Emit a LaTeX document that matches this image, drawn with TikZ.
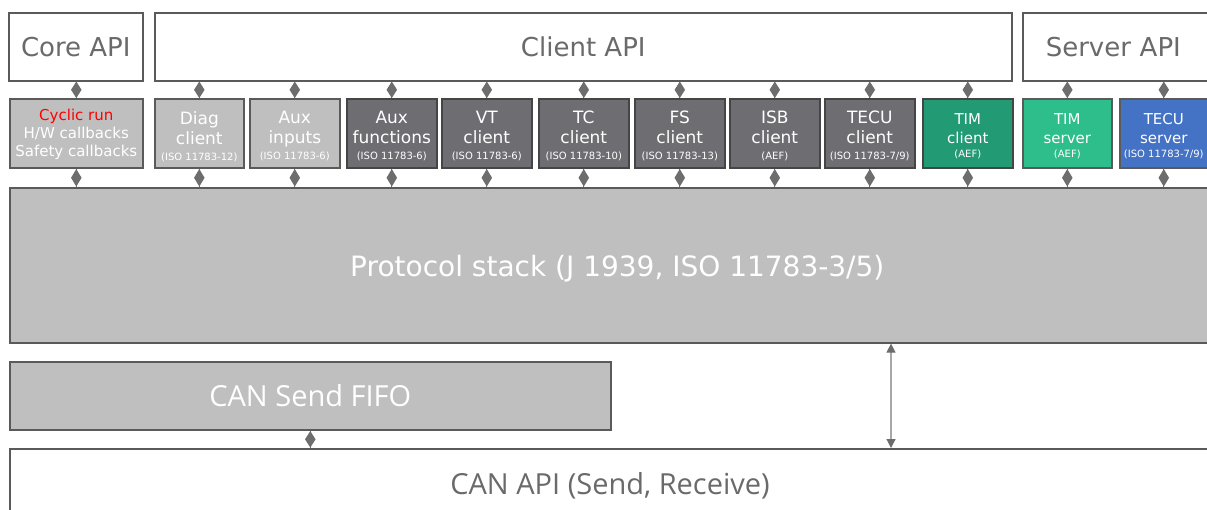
\documentclass[tikz,border=0pt]{standalone}
\usepackage{fontspec}
\setmainfont{DejaVu Sans}
\newfontfamily\osans{Open Sans}
\usetikzlibrary{shapes.geometric,arrows.meta}
\definecolor{bord}{HTML}{5A5A5A}
\definecolor{lgfill}{HTML}{BFBFBF}
\definecolor{dkfill}{HTML}{6E6D72}
\definecolor{dkbord}{HTML}{454545}
\definecolor{timc}{HTML}{229B75}
\definecolor{tims}{HTML}{2EBE8B}
\definecolor{tecus}{HTML}{4472C4}
\definecolor{apitext}{HTML}{6A6A6A}
\definecolor{diamc}{HTML}{6D6D6D}
\definecolor{arrline}{HTML}{A8A8A8}
\tikzset{
  apibox/.style={draw=bord, line width=1.6pt, fill=white, anchor=north west, inner sep=0pt,
    text=apitext, font=\fontsize{26}{30}\selectfont},
  sbox/.style={draw=bord, line width=1.6pt, anchor=north west, inner sep=0pt, minimum height=69pt},
  stext/.style={text=white, align=center, inner sep=0pt, font=\fontsize{17}{20}\selectfont},
  stexts/.style={stext, font=\fontsize{15}{18.5}\selectfont},
  lightb/.style={sbox, fill=lgfill},
  darkb/.style={sbox, fill=dkfill, draw=dkbord},
  timcb/.style={sbox, fill=timc, draw=dkbord},
  timsb/.style={sbox, fill=tims, draw=bord},
  tecusb/.style={sbox, fill=tecus, draw=bord},
  bigbox/.style={draw=bord, line width=1.6pt, fill=lgfill, anchor=north west, inner sep=0pt, text=white},
  bigtext/.style={inner sep=0pt},
  diam/.style={diamond, fill=diamc, draw=none, inner sep=0pt, minimum width=11pt, minimum height=#1, aspect=0.6},
  conn/.style={draw=diamc, line width=1.2pt},
  dbl/.style={draw=arrline, line width=1.2pt, {Triangle[length=9pt,width=9pt,color=diamc]}-{Triangle[length=9pt,width=9pt,color=diamc]}},
}
\newcommand{\iso}[1]{\\[-4pt]{\fontsize{10}{11}\selectfont #1}}
\newcommand{\sbx}[6]{% name, style, x, width, text style, text
  \node[#2, minimum width=#4pt] (#1) at (#3,98) {};
  \node[#5] at ([yshift=-3pt]#1.center) {#6};}
\begin{document}
\begin{tikzpicture}[x=1pt,y=-1pt]
\useasboundingbox (0,0) rectangle (1207,509);
% API boxes
\node[apibox, minimum width=134pt, minimum height=68pt] (core) at (8,12) {Core API};
\node[apibox, minimum width=857pt, minimum height=68pt] (client) at (154,12) {Client API};
\node[apibox, minimum width=188pt, minimum height=68pt, text width=188pt, align=left] (server) at (1022,12) {\hspace*{23pt}Server API};
% small boxes
\node[lightb, minimum width=133pt] (cyc) at (9,98) {};
\node[stexts, font=\fontsize{15}{18}\selectfont] at ([yshift=-1.5pt]cyc.center) {\textcolor{red}{Cyclic run}\\H/W callbacks\\Safety callbacks};
\sbx{diag}{lightb}{154}{89}{stext}{Diag\\client\iso{(ISO 11783-12)}}
\sbx{auxi}{lightb}{249}{90}{stext}{Aux\\inputs\iso{(ISO 11783-6)}}
\sbx{auxf}{darkb}{346}{90}{stext}{Aux\\functions\iso{(ISO 11783-6)}}
\sbx{vt}{darkb}{441}{90}{stext}{VT\\client\iso{(ISO 11783-6)}}
\sbx{tc}{darkb}{538}{90}{stext}{TC\\client\iso{(ISO 11783-10)}}
\sbx{fs}{darkb}{634}{90}{stext}{FS\\client\iso{(ISO 11783-13)}}
\sbx{isb}{darkb}{729}{90}{stext}{ISB\\client\iso{(AEF)}}
\sbx{tecuc}{darkb}{824}{90}{stext}{TECU\\client\iso{(ISO 11783-7/9)}}
\sbx{timc}{timcb}{922}{90}{stexts}{TIM\\client\iso{(AEF)}}
\sbx{tims}{timsb}{1022}{89}{stexts}{TIM\\server\iso{(AEF)}}
\sbx{tecus}{tecusb}{1119}{88}{stexts}{TECU\\server\iso{(ISO 11783-7/9)}}
% protocol stack
\node[bigbox, minimum width=1202pt, minimum height=155pt] (stack) at (9,187) {};
\node[bigtext, text=white, anchor=west, font=\fontsize{28}{32}\selectfont] at ([xshift=341pt,yshift=-3pt]stack.west) {Protocol stack (J 1939, ISO 11783-3/5)};
% CAN send fifo
\node[bigbox, minimum width=601pt, minimum height=68pt, font=\osans\fontsize{29}{34}\selectfont] (fifo) at (9,361) {CAN Send FIFO};
% CAN API
\node[apibox, minimum width=1202pt, minimum height=76pt] (canapi) at (9,448) {};
\node[bigtext, text=apitext, font=\osans\fontsize{29}{34}\selectfont] at (610,486) {CAN API (Send, Receive)};
% connectors top
\foreach \b/\a in {cyc/core, diag/client, auxi/client, auxf/client, vt/client, tc/client, fs/client, isb/client, tecuc/client, timc/client, tims/server, tecus/server}{
  \draw[conn] (\b.north) -- (\b.north |- \a.south) node[midway, diam=17pt] {};
  \draw[conn] (\b.south) -- (\b.south |- stack.north) node[midway, diam=18pt] {};
}
\draw[conn] (fifo.south) -- (fifo.south |- canapi.north) node[midway, diam=17pt] {};
\draw[dbl] (stack.south -| 891,0) -- (canapi.north -| 891,0);
\end{tikzpicture}
\end{document}
